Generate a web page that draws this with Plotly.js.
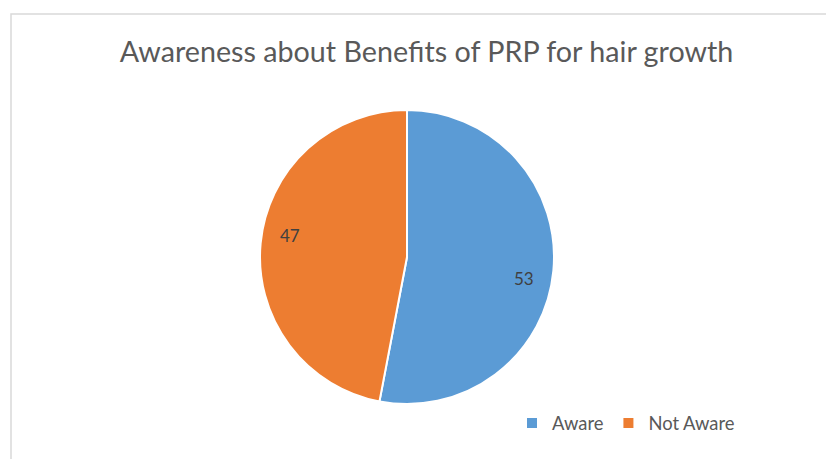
<!DOCTYPE html>
<html>
<head>
<meta charset="utf-8">
<script src="https://cdn.plot.ly/plotly-3.0.1.min.js"></script>
<style>
  html, body { margin: 0; padding: 0; background: #ffffff; }
  #chart { width: 826px; height: 459px; }
</style>
</head>
<body>
<div id="chart"></div>
<script>
// Awareness of PRP benefits for hair growth (percent of respondents)
const categories = ["Aware", "Not Aware"];
const values = [53, 47];
const colors = ["#5B9BD5", "#ED7D31"];

const W = 826, H = 459;
const FONT = "Lato, 'Open Sans', sans-serif";
// pie placement (paper fractions)
const domainX = [260 / W, 554 / W];
const domainY = [(H - 404) / H, (H - 110) / H];

// data labels: placed along each slice's mid-angle, at ~0.81 of the radius
const labelRadius = 0.81;
const labelAngleOffset = 5 * Math.PI / 180;
const total = values.reduce((a, b) => a + b, 0);
const cx = (domainX[0] + domainX[1]) / 2 * W;
const cy = H - (domainY[0] + domainY[1]) / 2 * H;
const radius = (domainX[1] - domainX[0]) * W / 2;
let cum = 0;
const labelAnnotations = values.map((v) => {
  const mid = (cum + v / 2) / total * 2 * Math.PI + labelAngleOffset; // clockwise from 12 o'clock
  cum += v;
  const r = radius * labelRadius;
  const px = cx + r * Math.sin(mid);
  const py = cy - r * Math.cos(mid);
  return {
    xref: "paper", yref: "paper",
    x: px / W, y: 1 - py / H,
    text: String(v), showarrow: false,
    font: { family: FONT, size: 17, color: "#404040" },
    xanchor: "center", yanchor: "middle"
  };
});

const trace = {
  type: "pie",
  labels: categories,
  values: values,
  sort: false,
  direction: "clockwise",
  rotation: 0,
  marker: { colors: colors, line: { color: "#ffffff", width: 2 } },
  textinfo: "none",
  hoverinfo: "label+value",
  domain: { x: domainX, y: domainY }
};

const layout = {
  width: W, height: H,
  margin: { l: 0, r: 0, t: 0, b: 0 },
  paper_bgcolor: "#ffffff",
  showlegend: true,
  title: {
    text: "Awareness about Benefits of PRP for hair growth",
    font: { family: FONT, size: 28.7, color: "#595959" },
    x: 426.5 / W, xanchor: "center", xref: "paper",
    y: 1 - 52 / H, yanchor: "middle", yref: "container"
  },
  legend: {
    orientation: "h",
    x: 512 / W, xanchor: "left",
    y: 1 - 423 / H, yanchor: "middle",
    font: { family: FONT, size: 18.4, color: "#595959" },
    itemwidth: 30,
    bgcolor: "rgba(0,0,0,0)"
  },
  annotations: labelAnnotations,
  shapes: [{
    type: "rect", xref: "paper", yref: "paper",
    x0: 11 / W, x1: 1.2, y0: -0.2, y1: 1 - 14 / H,
    line: { color: "#d9d9d9", width: 1.5 },
    fillcolor: "rgba(0,0,0,0)"
  }]
};

Plotly.newPlot("chart", [trace], layout, { displayModeBar: false, staticPlot: true });
</script>
</body>
</html>
